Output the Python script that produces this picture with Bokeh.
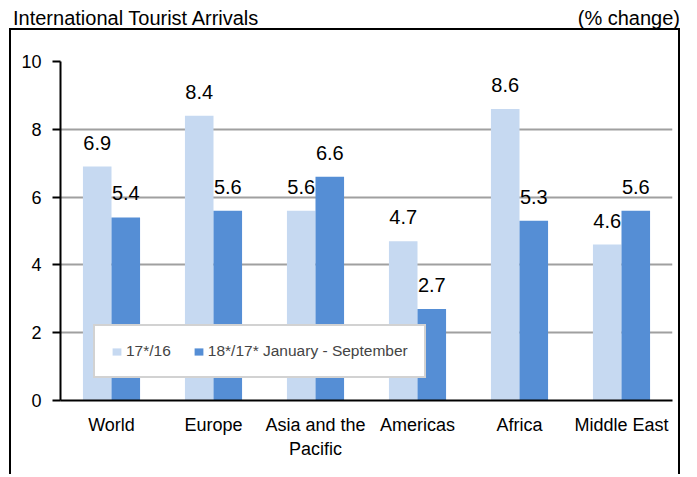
from bokeh.plotting import figure
from bokeh.models import ColumnDataSource, Div, Legend, LegendItem
from bokeh.layouts import column
from bokeh.transform import dodge
from bokeh.core.properties import value
from bokeh.embed import file_html
from bokeh.resources import INLINE

categories = ["World", "Europe", "Asia and the\nPacific", "Americas", "Africa", "Middle East"]
series_1716 = [6.9, 8.4, 5.6, 4.7, 8.6, 4.6]
series_1817 = [5.4, 5.6, 6.6, 2.7, 5.3, 5.6]
y_ticks = [0, 2, 4, 6, 8, 10]

LIGHT = "#C6D9F1"
DARK = "#558ED5"
FONT = "Liberation Sans"

src = ColumnDataSource(dict(
    cat=categories,
    a=series_1716,
    b=series_1817,
    a_lbl=[f"{v:.1f}" for v in series_1716],
    b_lbl=[f"{v:.1f}" for v in series_1817],
))

p = figure(x_range=categories, y_range=(0, 10), width=671, height=446,
           output_backend="svg", toolbar_location=None,
           min_border_left=49, min_border_right=10, min_border_top=31, min_border_bottom=76)
p.outline_line_color = None
p.styles = {"border-top": "2px solid black", "border-left": "2px solid black",
            "border-right": "2px solid black", "margin-left": "9px"}

r1 = p.vbar(x=dodge("cat", -0.14, range=p.x_range), top="a", width=0.28, source=src,
            fill_color=LIGHT, line_color=None)
r2 = p.vbar(x=dodge("cat", 0.14, range=p.x_range), top="b", width=0.28, source=src,
            fill_color=DARK, line_color=None)

p.text(x=dodge("cat", -0.14, range=p.x_range), y="a", text="a_lbl", source=src,
       text_align="center", text_baseline="alphabetic", y_offset=-24,
       text_font=value(FONT), text_font_size=value("20px"), text_color="#000000")
p.text(x=dodge("cat", 0.14, range=p.x_range), y="b", text="b_lbl", source=src,
       text_align="center", text_baseline="alphabetic", y_offset=-24,
       text_font=value(FONT), text_font_size=value("20px"), text_color="#000000")

p.xgrid.grid_line_color = None
p.ygrid.grid_line_color = "#A0A0A0"
p.ygrid.grid_line_width = 2
p.ygrid.ticker = y_ticks
p.yaxis.ticker = y_ticks

for ax in (p.xaxis, p.yaxis):
    ax.axis_line_color = "#000000"
    ax.axis_line_width = 2
    ax.major_label_text_font = FONT
    ax.major_label_text_font_size = "18px"
    ax.major_label_text_color = "#000000"
    ax.minor_tick_line_color = None

p.yaxis.major_tick_line_color = "#000000"
p.yaxis.major_tick_line_width = 2
p.yaxis.major_tick_out = 8
p.yaxis.major_tick_in = 0
p.yaxis.major_label_standoff = 11

p.xaxis.major_tick_line_color = None
p.xaxis.major_label_standoff = 8

legend = Legend(items=[LegendItem(label="17*/16", renderers=[r1]),
                       LegendItem(label="18*/17* January - September", renderers=[r2])],
                orientation="horizontal", location=(33, 22), margin=0, padding=16,
                spacing=22, glyph_width=11, glyph_height=9, label_standoff=4,
                label_text_font=FONT, label_text_font_size="15.5px",
                border_line_color="#A6A6A6", border_line_width=2,
                background_fill_color="white", background_fill_alpha=1.0)
p.add_layout(legend, "center")

title = Div(text=("<div style=\"display:flex;justify-content:space-between;box-sizing:border-box;"
                  "width:680px;height:28px;padding-left:13px;padding-top:7px;"
                  "font-family:'Liberation Sans';font-size:20px;line-height:23px;"
                  "color:#000;white-space:nowrap;\"><span>International Tourist Arrivals</span>"
                  "<span>(% change)</span></div>"),
            width=680, height=28, margin=0)

layout = column(title, p, spacing=0)
open("out.html", "w").write(file_html(layout, INLINE))
